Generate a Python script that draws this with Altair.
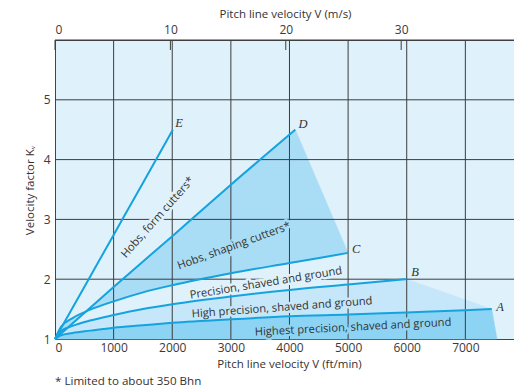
import altair as alt
import pandas as pd

# Velocity factor curves, Kv against pitch line velocity V (ft/min)
V_A = [0, 100, 300, 600, 1000, 1500, 2000, 3000, 4000, 5000, 6000, 7000, 7450]
K_A = [1.00, 1.06, 1.10, 1.14, 1.19, 1.23, 1.27, 1.33, 1.38, 1.41, 1.445, 1.48, 1.50]

V_B = [0, 100, 300, 600, 1000, 1500, 2000, 3000, 4000, 5000, 6000]
K_B = [1.00, 1.13, 1.22, 1.31, 1.40, 1.50, 1.58, 1.71, 1.82, 1.91, 2.00]

V_C = [0, 100, 300, 600, 1000, 1500, 2000, 3000, 4000, 5000]
K_C = [1.00, 1.20, 1.35, 1.49, 1.63, 1.78, 1.90, 2.10, 2.27, 2.44]

V_D = [0, 1000, 2000, 3000, 4100]
K_D = [1.00, 1.87, 2.72, 3.58, 4.50]

V_E = [0, 500, 1000, 1500, 2010]
K_E = [1.00, 1.87, 2.74, 3.61, 4.50]

# where the lowest band meets the V axis
A_FOOT = (7540, 1.00)

# axis ticks
V_TICKS = [0, 1000, 2000, 3000, 4000, 5000, 6000, 7000]
K_TICKS = [1, 2, 3, 4, 5]
MS_TICKS = [0, 10, 20, 30]
V_MAX = 7830
K_MAX = 6
FTMIN_PER_MS = 196.85

# curve descriptions
LABELS = ["Hobs, form cutters*", "Hobs, shaping cutters*",
          "Precision, shaved and ground", "High precision, shaved and ground",
          "Highest precision, shaved and ground"]
LABEL_V = [1758, 3055, 3600, 3874, 5085]
LABEL_K = [3.03, 2.55, 1.93, 1.52, 1.19]
LABEL_ANGLE = [311.5, 340, 350.7, 355.8, 357.1]

LETTERS = ["A", "B", "C", "D", "E"]
LETTER_V = [7594, 6143, 5137, 4232, 2116]
LETTER_K = [1.53, 2.12, 2.50, 4.60, 4.62]

BG = "#dff1fb"
FILL_LOW = "#8dd3f4"
FILL_AB = "#c5e7f9"
FILL_CD = "#a9dcf5"
LINE = "#14a3df"
GRID = "#3c3c3c"
TXT = "#333333"
FONT = "Open Sans"

curves = pd.concat([
    pd.DataFrame({"V": v, "K": k, "curve": name})
    for name, v, k in [("A", V_A, K_A), ("B", V_B, K_B), ("C", V_C, K_C),
                       ("D", V_D, K_D), ("E", V_E, K_E)]
], ignore_index=True)


def polygon(vs, ks):
    return pd.DataFrame({"V": vs, "K": ks, "i": range(len(vs))})


poly_low = polygon(V_A + [A_FOOT[0]], K_A + [A_FOOT[1]])
poly_ab = polygon(V_B + V_A[::-1], K_B + K_A[::-1])
poly_cd = polygon(V_D + V_C[::-1], K_D + K_C[::-1])

xs = alt.Scale(domain=[0, V_MAX], nice=False, zero=False)
ys = alt.Scale(domain=[1, K_MAX], nice=False, zero=False)

x_axis = alt.Axis(values=V_TICKS, format="d", grid=False, ticks=False,
                  labelPadding=3, labelFontSize=12, labelColor="#3a3a3a",
                  labelFont=FONT, domainColor="#444",
                  title="Pitch line velocity V (ft/min)",
                  titleFont=FONT, titleFontSize=11.5, titleFontWeight="normal",
                  titleColor=TXT, titleX=234, titleY=25,
                  titleBaseline="middle", titleAlign="center")
y_axis = alt.Axis(values=K_TICKS, grid=False, ticks=False, labelPadding=5,
                  labelFontSize=12, labelColor="#3a3a3a", labelFont=FONT,
                  domainColor="#444", title="Velocity factor Kᵥ",
                  titleFont=FONT, titleFontSize=11.5, titleFontWeight="normal",
                  titleColor=TXT, titleX=-25, titleY=150, titleAngle=270,
                  titleBaseline="middle", titleAlign="center")

X = alt.X("V:Q", scale=xs, axis=x_axis)
Y = alt.Y("K:Q", scale=ys, axis=y_axis)


def fill_layer(df, color):
    return alt.Chart(df).mark_line(
        fill=color, stroke=color, strokeWidth=0.5, interpolate="linear-closed"
    ).encode(x=X, y=Y, order="i:Q")


fills = [fill_layer(poly_low, FILL_LOW), fill_layer(poly_ab, FILL_AB),
         fill_layer(poly_cd, FILL_CD)]

vgrid = alt.Chart(pd.DataFrame({"V": V_TICKS[1:]})).mark_rule(
    color=GRID, strokeWidth=1).encode(x=X)
hgrid = alt.Chart(pd.DataFrame({"K": K_TICKS[1:] + [K_MAX]})).mark_rule(
    color=GRID, strokeWidth=1).encode(y=Y)

labels = pd.DataFrame({"text": LABELS, "V": LABEL_V, "K": LABEL_K,
                       "angle": LABEL_ANGLE,
                       "halo": [BG, FILL_CD, BG, FILL_AB, FILL_LOW]})
halo = alt.Chart(labels).mark_text(
    font=FONT, fontSize=11.2, strokeWidth=5, strokeJoin="round"
).encode(x=X, y=Y, text="text:N", angle=alt.Angle("angle:Q", scale=None),
         stroke=alt.Stroke("halo:N", scale=None),
         fill=alt.Fill("halo:N", scale=None))
label_text = alt.Chart(labels).mark_text(
    font=FONT, fontSize=11.2, color=TXT
).encode(x=X, y=Y, text="text:N", angle=alt.Angle("angle:Q", scale=None))

lines = alt.Chart(curves).mark_line(
    color=LINE, strokeWidth=2, interpolate="monotone"
).encode(x=X, y=Y, detail="curve:N")

letters = alt.Chart(pd.DataFrame({"t": LETTERS, "V": LETTER_V, "K": LETTER_K})).mark_text(
    font="Liberation Serif", fontStyle="italic", fontSize=12.5, color=TXT
).encode(x=X, y=Y, text="t:N")

footnote = alt.Chart(pd.DataFrame({"t": ["* Limited to about 350 Bhn"]})).mark_text(
    font=FONT, fontSize=11.6, color=TXT, align="left", baseline="middle"
).encode(x=alt.value(0), y=alt.value(342), text="t:N")

ft_layers = alt.layer(*fills, vgrid, hgrid, halo, label_text, lines, letters, footnote)

ms_axis = alt.Axis(orient="top", values=MS_TICKS, grid=False, ticks=False,
                   labelPadding=4, labelFontSize=12, labelColor="#3a3a3a",
                   labelFont=FONT, domainColor="#444",
                   title="Pitch line velocity V (m/s)", titleFont=FONT,
                   titleFontSize=11.5, titleFontWeight="normal", titleColor=TXT,
                   titleX=230, titleY=-26, titleBaseline="middle",
                   titleAlign="center")
ms_ticks = alt.Chart(pd.DataFrame({"ms": MS_TICKS})).mark_rule(
    color=GRID, strokeWidth=1
).encode(
    x=alt.X("ms:Q", scale=alt.Scale(domain=[0, V_MAX / FTMIN_PER_MS], nice=False, zero=False),
            axis=ms_axis),
    y=alt.value(0), y2=alt.value(10),
)

chart = alt.layer(ft_layers, ms_ticks).resolve_scale(x="independent").properties(
    width=459, height=299,
    padding={"left": 55, "top": 40, "right": 0, "bottom": 49},
    autosize=alt.AutoSizeParams(type="none"),
    background="white",
).configure_view(stroke=None, fill=BG)

chart.save("out.html", embed_options={"renderer": "svg", "actions": False})
